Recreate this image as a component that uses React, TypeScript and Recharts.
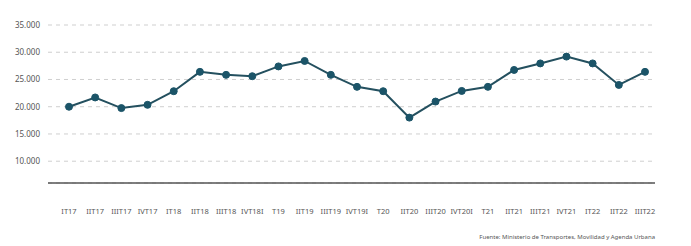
import React from "react";
import { LineChart, Line, XAxis, YAxis, CartesianGrid } from "recharts";

const categories = [
  "IT17", "IIT17", "IIIT17", "IVT17", "IT18", "IIT18", "IIIT18", "IVT18I",
  "T19", "IIT19", "IIIT19", "IVT19I", "T20", "IIT20", "IIIT20", "IVT20I",
  "T21", "IIT21", "IIIT21", "IVT21", "IT22", "IIT22", "IIIT22",
];
const values = [
  20000, 21700, 19750, 20350, 22850, 26400, 25850, 25600,
  27400, 28400, 25850, 23650, 22850, 18000, 20950, 22900,
  23650, 26750, 27950, 29200, 27950, 24000, 26400,
];
const yTicks = [10000, 15000, 20000, 25000, 30000, 35000];
const source = "Fuente: Ministerio de Transportes, Movilidad y Agenda Urbana";

const data = categories.map((c, i) => ({ name: c, value: values[i] }));

const fmt = (v: number) => v.toLocaleString("de-DE");

export default function App() {
  return (
    <div style={{ position: "absolute", left: 0, top: 0, width: 691, height: 246, background: "#fff", fontFamily: "'Noto Sans', sans-serif" }}>
      <LineChart width={691} height={246} data={data} margin={{ top: 25, right: 36, bottom: 33, left: 0 }}>
        <CartesianGrid vertical={false} stroke="#cfcfcf" strokeDasharray="4 4" />
        <XAxis
          dataKey="name"
          scale="point"
          padding={{ left: 21, right: 10 }}
          tickLine={false}
          axisLine={{ stroke: "#555", strokeWidth: 1.5 }}
          tickMargin={20}
          height={30}
          interval={0}
          tick={{ fontSize: 7.5, fill: "#555" }}
        />
        <YAxis
          domain={[6000, 35000]}
          ticks={yTicks}
          width={48}
          tickLine={false}
          axisLine={false}
          tickFormatter={fmt}
          tick={{ fontSize: 8, fill: "#555" }}
          interval={0}
        />
        <Line
          type="linear"
          dataKey="value"
          stroke="#24505f"
          strokeWidth={2}
          dot={{ r: 3.5, fill: "#1b5468", stroke: "#1b5468", strokeWidth: 1 }}
          isAnimationActive={false}
        />
      </LineChart>
      <div style={{ position: "absolute", right: 36, top: 233, fontSize: 6, color: "#555", whiteSpace: "nowrap" }}>{source}</div>
    </div>
  );
}
